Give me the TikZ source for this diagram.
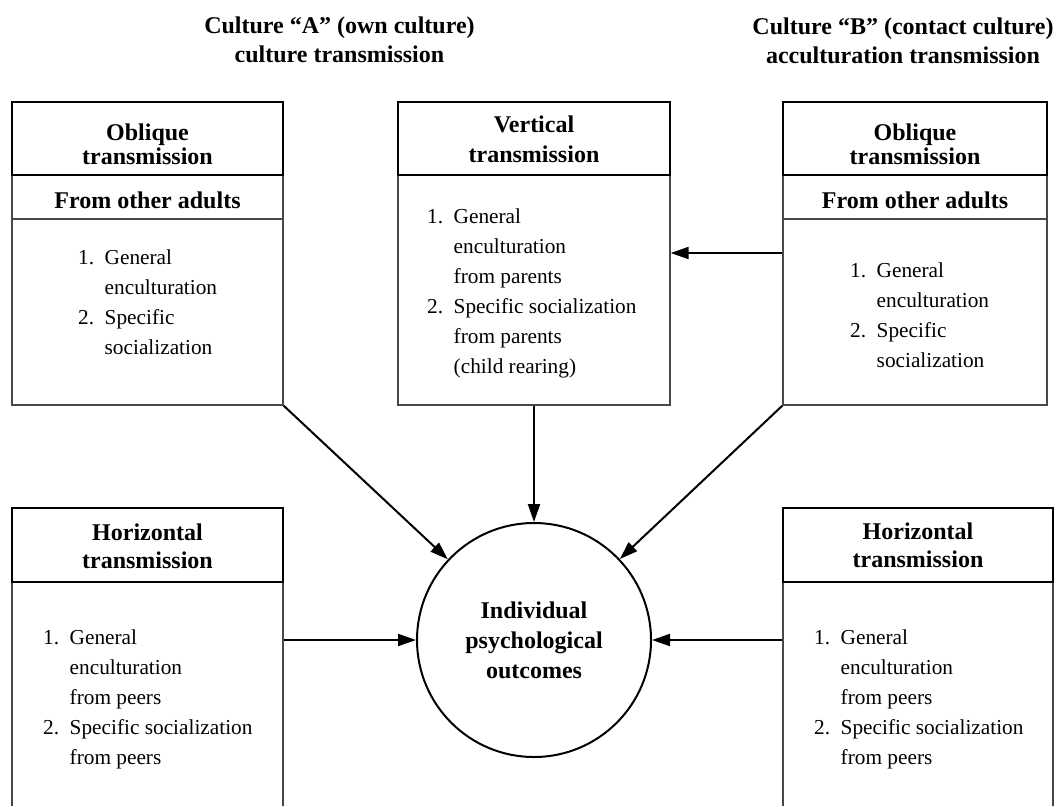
\documentclass[tikz,border=0pt]{standalone}
\usepackage{fontspec}
\setmainfont{Liberation Serif}
\usetikzlibrary{arrows.meta}
% numbered entries: number column, then the text
\newcommand{\itemrows}[1]{\begin{tabular}{@{}p{26.5pt}@{}l@{}}#1\end{tabular}}
\begin{document}
\begin{tikzpicture}[x=1pt,y=-1pt,
  hdr/.style={draw=black, line width=2.6pt, inner sep=0pt},
  pane/.style={draw=black!72, line width=1.3pt, inner sep=0pt},
  boldtext/.style={font=\fontsize{24}{#1}\selectfont\bfseries, align=center, inner sep=0pt},
  boldtext/.default=29,
  listtext/.style={font=\fontsize{21.3}{30}\selectfont, anchor=north west, inner sep=0pt},
  arr/.style={line width=2pt, -{Triangle[length=18pt,width=12pt]}},
]
\useasboundingbox (0,0) rectangle (1056,806);

% column titles
\node[boldtext=29] (titleA) at (339.5,40.2) {Culture ``A'' (own culture)\\culture transmission};
\node[boldtext=29] (titleB) at (903,41.2) {Culture ``B'' (contact culture)\\acculturation transmission};

% oblique transmission, own culture
\node[pane, minimum width=271pt, minimum height=230pt] (tlb) at (147.5,290) {};
\node[pane, minimum width=271pt, minimum height=44pt] (tls) at (147.5,197) {};
\node[hdr, minimum width=271pt, minimum height=73pt] (tlh) at (147.5,138.5) {};
\node[boldtext=24] (tlhT) at (147.5,144) {Oblique\\transmission};
\node[boldtext=24] (tlsT) at (147.5,200) {From other adults};
\node[listtext] (tlL) at (78,243) {\itemrows{1. & General\\ & enculturation\\ 2. & Specific\\ & socialization}};

% vertical transmission
\node[pane, minimum width=272pt, minimum height=230pt] (tmb) at (534,290) {};
\node[hdr, minimum width=272pt, minimum height=73pt] (tmh) at (534,138.5) {};
\node[boldtext=30] (tmhT) at (534,139.6) {Vertical\\transmission};
\node[listtext] (tmL) at (427,202) {\itemrows{1. & General\\ & enculturation\\ & from parents\\ 2. & Specific socialization\\ & from parents\\ & (child rearing)}};

% oblique transmission, contact culture
\node[pane, minimum width=264pt, minimum height=230pt] (trb) at (915,290) {};
\node[pane, minimum width=264pt, minimum height=44pt] (trs) at (915,197) {};
\node[hdr, minimum width=264pt, minimum height=73pt] (trh) at (915,138.5) {};
\node[boldtext=24] (trhT) at (915,144) {Oblique\\transmission};
\node[boldtext=24] (trsT) at (915,200) {From other adults};
\node[listtext] (trL) at (850,256) {\itemrows{1. & General\\ & enculturation\\ 2. & Specific\\ & socialization}};

% horizontal transmission, left
\draw[pane] (12,582) coordinate (blsw) -- ++(0,224);
\draw[pane] (283,582) coordinate (blse) -- ++(0,224);
\node[hdr, minimum width=271pt, minimum height=74pt] (blh) at (147.5,545) {};
\node[boldtext=28] (blhT) at (147.5,546) {Horizontal\\transmission};
\node[listtext] (blL) at (43,623) {\itemrows{1. & General\\ & enculturation\\ & from peers\\ 2. & Specific socialization\\ & from peers}};

% horizontal transmission, right
\draw[pane] (783,582) coordinate (brsw) -- ++(0,224);
\draw[pane] (1053,582) coordinate (brse) -- ++(0,224);
\node[hdr, minimum width=270pt, minimum height=74pt] (brh) at (918,545) {};
\node[boldtext=28] (brhT) at (918,545) {Horizontal\\transmission};
\node[listtext] (brL) at (814,623) {\itemrows{1. & General\\ & enculturation\\ & from peers\\ 2. & Specific socialization\\ & from peers}};

% outcome
\node[draw, circle, line width=2pt, minimum size=234pt, boldtext=30] (out) at (534,640) {Individual\\psychological\\outcomes};

% connectors
\coordinate (lvl) at (0,253);
\draw[arr] (tlb.south east) -- (out);
\draw[arr] (trb.south west) -- (out);
\draw[arr] (tmb.south) -- (out);
\draw[arr] (out -| blh.east) -- (out);
\draw[arr] (out -| brh.west) -- (out);
\draw[arr] (lvl -| trb.west) -- (lvl -| tmb.east);
\end{tikzpicture}
\end{document}
